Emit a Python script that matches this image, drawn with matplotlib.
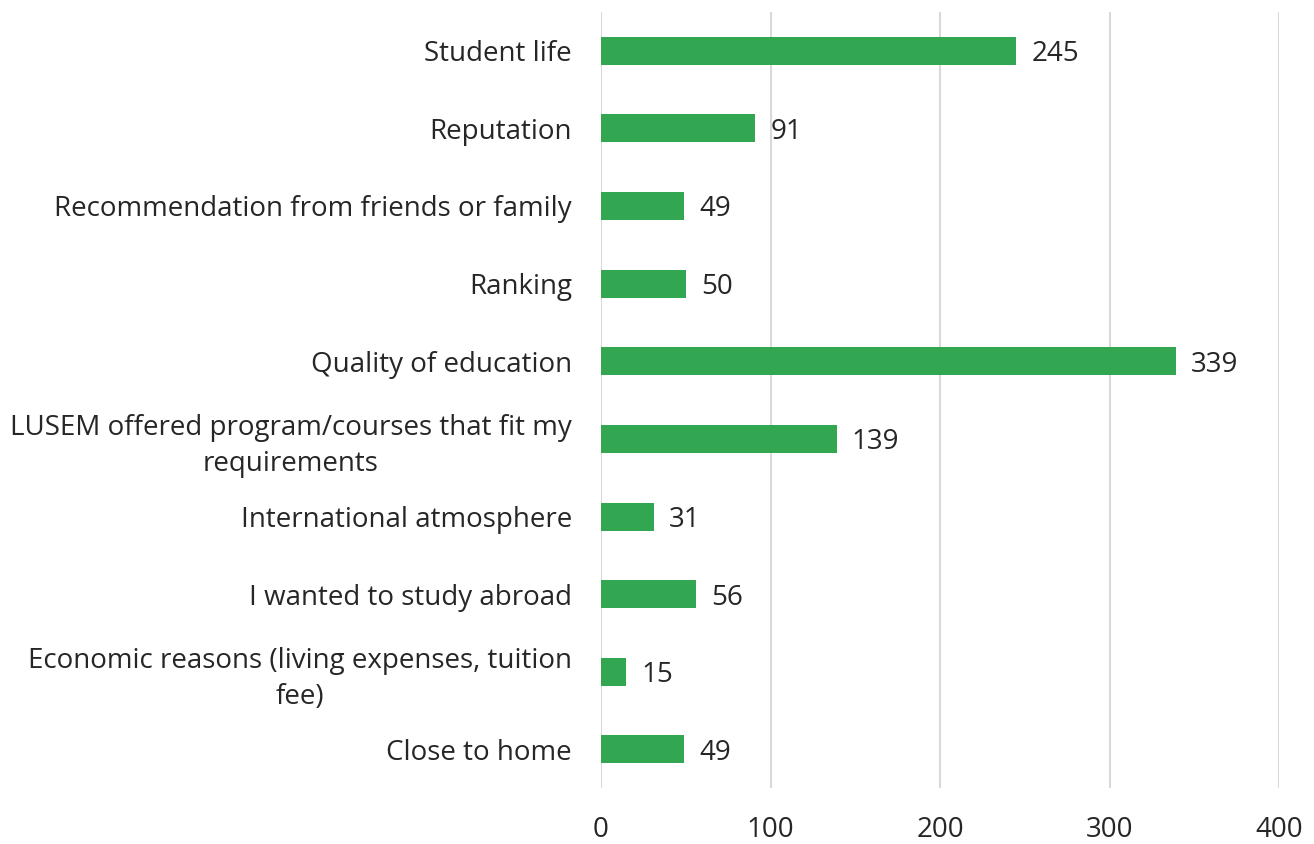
import matplotlib.pyplot as plt

# Reasons for choosing LUSEM, number of responses
categories = [
    'Student life',
    'Reputation',
    'Recommendation from friends or family',
    'Ranking',
    'Quality of education',
    'LUSEM offered program/courses that fit my\nrequirements',
    'International atmosphere',
    'I wanted to study abroad',
    'Economic reasons (living expenses, tuition\nfee)',
    'Close to home',
]
counts = [245, 91, 49, 50, 339, 139, 31, 56, 15, 49]
xticks = [0, 100, 200, 300, 400]

plt.rcParams['font.family'] = ['Open Sans', 'DejaVu Sans']
textColor = '#262626'
fs = 20

fig = plt.figure(figsize=(13.14, 8.44), dpi=100)
ax = fig.add_axes([0.4574, 0.066, 0.5160, 0.920])

ypos = list(range(len(categories)))
bars = ax.barh(ypos, counts, height=0.36, color='#33a652', zorder=3)
ax.set_ylim(len(categories) - 0.5, -0.5)
ax.set_xlim(0, 400)

# value labels next to the bars
for b, v in zip(bars, counts):
    ax.annotate(str(v), (b.get_width(), b.get_y() + b.get_height() / 2),
                xytext=(11, 0), textcoords='offset points', va='center_baseline',
                ha='left', fontsize=fs, color=textColor)

ax.set_yticks(ypos)
ax.set_yticklabels(categories, fontsize=fs, color=textColor, ha='right',
                   multialignment='center', linespacing=1.35)
ax.tick_params(axis='y', length=0, pad=21)

ax.set_xticks(xticks)
ax.set_xticklabels([str(t) for t in xticks], fontsize=fs, color=textColor)
ax.tick_params(axis='x', length=0, pad=20)

ax.grid(axis='x', color='#d9d9d9', linewidth=1.5, zorder=0)
for s in ax.spines.values():
    s.set_visible(False)

plt.savefig('out.png', dpi=100)
